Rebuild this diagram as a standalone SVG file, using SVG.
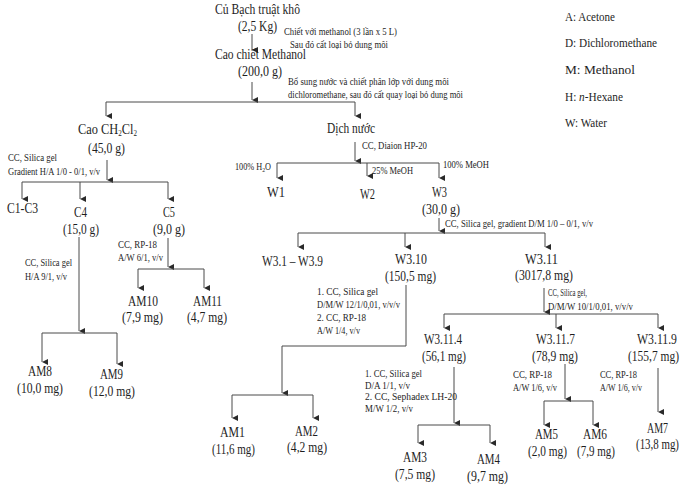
<svg xmlns="http://www.w3.org/2000/svg" width="682" height="486" viewBox="0 0 682 486" font-family="Liberation Serif">
<style>
text{fill:#1e1e1e}
.m{font-size:14px}
.s{font-size:10px}
.l{font-size:13px}
.c path{fill:none;stroke:#4a4a4a;stroke-width:1}
.c path.a{marker-end:url(#ah)}
</style>
<defs>
<marker id="ah" markerUnits="userSpaceOnUse" markerWidth="6" markerHeight="7" refX="3" refY="6" orient="auto-start-reverse" viewBox="0 0 6 7">
<path d="M0,0 L6,0 L3,6 Z" fill="#2a2a2a"/>
</marker>
</defs>
<rect width="682" height="486" fill="#fff"/>

<g class="c" id="connectors">
<path class="a" d="M252,34 V50"/>
<path class="a" d="M252,82 V100"/>
<path d="M106,102 H355"/>
<path class="a" d="M106,102 V116"/>
<path class="a" d="M355,102 V116"/>
<path class="a" d="M107,160 V180"/>
<path d="M22,182 H168"/>
<path class="a" d="M22,182 V199"/>
<path class="a" d="M80,182 V199"/>
<path class="a" d="M168,182 V199"/>
<path class="a" d="M355,142 V161"/>
<path d="M277,163 H439"/>
<path class="a" d="M277,163 V178"/>
<path class="a" d="M367,163 V176"/>
<path class="a" d="M439,163 V178"/>
<path class="a" d="M79,237 V331"/>
<path d="M42,333 H117"/>
<path class="a" d="M42,333 V362"/>
<path class="a" d="M117,333 V364"/>
<path class="a" d="M168,238 V267"/>
<path d="M138,269 H204"/>
<path class="a" d="M138,269 V288"/>
<path class="a" d="M204,269 V288"/>
<path class="a" d="M439,218 V231"/>
<path d="M298,233 H545"/>
<path class="a" d="M298,233 V247"/>
<path class="a" d="M405,233 V247"/>
<path class="a" d="M545,233 V247"/>
<path class="a" d="M406,285 V346 H282 V393"/>
<path d="M232,395 H313"/>
<path class="a" d="M232,395 V418"/>
<path class="a" d="M313,395 V418"/>
<path class="a" d="M544,288 V312"/>
<path d="M444,314 H658"/>
<path class="a" d="M444,314 V328"/>
<path class="a" d="M556,314 V328"/>
<path class="a" d="M658,314 V328"/>
<path class="a" d="M454,367 V423"/>
<path d="M418,425 H490"/>
<path class="a" d="M418,425 V443"/>
<path class="a" d="M490,425 V443"/>
<path class="a" d="M565,364 V399"/>
<path d="M544,401 H593"/>
<path class="a" d="M544,401 V425"/>
<path class="a" d="M593,401 V425"/>
<path class="a" d="M658,368 V412"/>
</g>

<g id="edge-labels" class="s">
<text x="284" y="35" textLength="113" lengthAdjust="spacingAndGlyphs">Chiết với methanol  (3 lần  x 5 L)</text>
<text x="290" y="48" textLength="98" lengthAdjust="spacingAndGlyphs">Sau đó cất loại bỏ dung môi</text>
<text x="288" y="85" textLength="161" lengthAdjust="spacingAndGlyphs">Bổ sung nước và chiết  phân lớp với dung môi</text>
<text x="288" y="98" textLength="175" lengthAdjust="spacingAndGlyphs">dichloromethane,  sau đó cất quay loại bỏ dung môi</text>
<text x="8" y="161" textLength="49" lengthAdjust="spacingAndGlyphs">CC, Silica  gel</text>
<text x="8" y="175" textLength="92" lengthAdjust="spacingAndGlyphs">Gradient  H/A 1/0 - 0/1, v/v</text>
<text x="362" y="149" textLength="65" lengthAdjust="spacingAndGlyphs">CC, Diaion  HP-20</text>
<text x="235" y="170" textLength="36" lengthAdjust="spacingAndGlyphs">100% H<tspan font-size="7" dy="2">2</tspan><tspan dy="-2">O</tspan></text>
<text x="372" y="174" textLength="41" lengthAdjust="spacingAndGlyphs">25% MeOH</text>
<text x="443" y="168" textLength="46" lengthAdjust="spacingAndGlyphs">100% MeOH</text>
<text x="25" y="266" textLength="47" lengthAdjust="spacingAndGlyphs">CC, Silica  gel</text>
<text x="25" y="280" textLength="42" lengthAdjust="spacingAndGlyphs">H/A 9/1, v/v</text>
<text x="118" y="248" textLength="39" lengthAdjust="spacingAndGlyphs">CC, RP-18</text>
<text x="118" y="261" textLength="45" lengthAdjust="spacingAndGlyphs">A/W 6/1, v/v</text>
<text x="445" y="227" textLength="148" lengthAdjust="spacingAndGlyphs">CC, Silica  gel,  gradient  D/M 1/0 – 0/1, v/v</text>
<text x="317" y="295" textLength="61" lengthAdjust="spacingAndGlyphs">1.   CC, Silica  gel</text>
<text x="317" y="308" textLength="83" lengthAdjust="spacingAndGlyphs">D/M/W 12/1/0,01, v/v/v</text>
<text x="317" y="321" textLength="49" lengthAdjust="spacingAndGlyphs">2. CC, RP-18</text>
<text x="317" y="334" textLength="43" lengthAdjust="spacingAndGlyphs">A/W 1/4, v/v</text>
<text x="548" y="296" textLength="39" lengthAdjust="spacingAndGlyphs">CC, Silica  gel,</text>
<text x="548" y="310" textLength="85" lengthAdjust="spacingAndGlyphs">D/M/W 10/1/0,01, v/v/v</text>
<text x="365" y="377" textLength="57" lengthAdjust="spacingAndGlyphs">1. CC, Silica  gel</text>
<text x="365" y="389" textLength="45" lengthAdjust="spacingAndGlyphs">D/A 1/1, v/v</text>
<text x="365" y="400" textLength="92" lengthAdjust="spacingAndGlyphs">2. CC, Sephadex  LH-20</text>
<text x="365" y="412" textLength="48" lengthAdjust="spacingAndGlyphs">M/W 1/2, v/v</text>
<text x="513" y="378" textLength="39" lengthAdjust="spacingAndGlyphs">CC, RP-18</text>
<text x="513" y="391" textLength="44" lengthAdjust="spacingAndGlyphs">A/W 1/6, v/v</text>
<text x="600" y="378" textLength="37" lengthAdjust="spacingAndGlyphs">CC, RP-18</text>
<text x="600" y="391" textLength="42" lengthAdjust="spacingAndGlyphs">A/W 1/6, v/v</text>
</g>

<g id="legend" class="l">
<text x="565" y="21" textLength="50" lengthAdjust="spacingAndGlyphs">A: Acetone</text>
<text x="565" y="47" textLength="92" lengthAdjust="spacingAndGlyphs">D: Dichloromethane</text>
<text x="565" y="74" textLength="70" lengthAdjust="spacingAndGlyphs">M: Methanol</text>
<text x="565" y="101" textLength="58" lengthAdjust="spacingAndGlyphs">H: <tspan font-style="italic">n</tspan>-Hexane</text>
<text x="565" y="127" textLength="42" lengthAdjust="spacingAndGlyphs">W: Water</text>
</g>

<g class="m">
<g id="n-start"><text x="215" y="14" textLength="85" lengthAdjust="spacingAndGlyphs">Củ Bạch truật khô</text><text x="238" y="31" textLength="39" lengthAdjust="spacingAndGlyphs">(2,5 Kg)</text></g>
<g id="n-methanol"><text x="215" y="59" textLength="91" lengthAdjust="spacingAndGlyphs">Cao chiết Methanol</text><text x="238" y="76" textLength="44" lengthAdjust="spacingAndGlyphs">(200,0 g)</text></g>
<g id="n-ch2cl2"><text x="78" y="134" textLength="59" lengthAdjust="spacingAndGlyphs">Cao CH<tspan font-size="8" dy="2">2</tspan><tspan dy="-2">Cl</tspan><tspan font-size="8" dy="2">2</tspan></text><text x="88" y="153" textLength="37" lengthAdjust="spacingAndGlyphs">(45,0 g)</text></g>
<g id="n-dichnuoc"><text x="327" y="133" textLength="48" lengthAdjust="spacingAndGlyphs">Dịch nước</text></g>
<g id="n-c1c3"><text x="7" y="213" textLength="31" lengthAdjust="spacingAndGlyphs">C1-C3</text></g>
<g id="n-c4"><text x="74" y="217" textLength="13" lengthAdjust="spacingAndGlyphs">C4</text><text x="63" y="234" textLength="36" lengthAdjust="spacingAndGlyphs">(15,0 g)</text></g>
<g id="n-c5"><text x="163" y="217" textLength="12" lengthAdjust="spacingAndGlyphs">C5</text><text x="153" y="234" textLength="32" lengthAdjust="spacingAndGlyphs">(9,0 g)</text></g>
<g id="n-w1"><text x="267" y="197" textLength="18" lengthAdjust="spacingAndGlyphs">W1</text></g>
<g id="n-w2"><text x="360" y="199" textLength="15" lengthAdjust="spacingAndGlyphs">W2</text></g>
<g id="n-w3"><text x="432" y="197" textLength="15" lengthAdjust="spacingAndGlyphs">W3</text><text x="422" y="214" textLength="38" lengthAdjust="spacingAndGlyphs">(30,0 g)</text></g>
<g id="n-w31-39"><text x="262" y="266" textLength="61" lengthAdjust="spacingAndGlyphs">W3.1 – W3.9</text></g>
<g id="n-w310"><text x="395" y="264" textLength="32" lengthAdjust="spacingAndGlyphs">W3.10</text><text x="385" y="281" textLength="51" lengthAdjust="spacingAndGlyphs">(150,5 mg)</text></g>
<g id="n-w311"><text x="525" y="264" textLength="33" lengthAdjust="spacingAndGlyphs">W3.11</text><text x="515" y="280" textLength="58" lengthAdjust="spacingAndGlyphs">(3017,8 mg)</text></g>
<g id="n-w3114"><text x="424" y="344" textLength="38" lengthAdjust="spacingAndGlyphs">W3.11.4</text><text x="422" y="361" textLength="44" lengthAdjust="spacingAndGlyphs">(56,1 mg)</text></g>
<g id="n-w3117"><text x="536" y="344" textLength="39" lengthAdjust="spacingAndGlyphs">W3.11.7</text><text x="532" y="361" textLength="46" lengthAdjust="spacingAndGlyphs">(78,9 mg)</text></g>
<g id="n-w3119"><text x="677" y="344" text-anchor="end" textLength="40" lengthAdjust="spacingAndGlyphs">W3.11.9</text><text x="679" y="361" text-anchor="end" textLength="51" lengthAdjust="spacingAndGlyphs">(155,7 mg)</text></g>
<g id="n-am10"><text x="128" y="306" textLength="30" lengthAdjust="spacingAndGlyphs">AM10</text><text x="122" y="322" textLength="41" lengthAdjust="spacingAndGlyphs">(7,9 mg)</text></g>
<g id="n-am11"><text x="193" y="306" textLength="29" lengthAdjust="spacingAndGlyphs">AM11</text><text x="187" y="322" textLength="40" lengthAdjust="spacingAndGlyphs">(4,7 mg)</text></g>
<g id="n-am8"><text x="28" y="376" textLength="24" lengthAdjust="spacingAndGlyphs">AM8</text><text x="17" y="393" textLength="46" lengthAdjust="spacingAndGlyphs">(10,0 mg)</text></g>
<g id="n-am9"><text x="100" y="379" textLength="23" lengthAdjust="spacingAndGlyphs">AM9</text><text x="89" y="396" textLength="46" lengthAdjust="spacingAndGlyphs">(12,0 mg)</text></g>
<g id="n-am1"><text x="220" y="437" textLength="25" lengthAdjust="spacingAndGlyphs">AM1</text><text x="212" y="454" textLength="43" lengthAdjust="spacingAndGlyphs">(11,6 mg)</text></g>
<g id="n-am2"><text x="295" y="436" textLength="23" lengthAdjust="spacingAndGlyphs">AM2</text><text x="287" y="452" textLength="40" lengthAdjust="spacingAndGlyphs">(4,2 mg)</text></g>
<g id="n-am3"><text x="403" y="462" textLength="24" lengthAdjust="spacingAndGlyphs">AM3</text><text x="395" y="479" textLength="40" lengthAdjust="spacingAndGlyphs">(7,5 mg)</text></g>
<g id="n-am4"><text x="477" y="464" textLength="23" lengthAdjust="spacingAndGlyphs">AM4</text><text x="467" y="481" textLength="41" lengthAdjust="spacingAndGlyphs">(9,7 mg)</text></g>
<g id="n-am5"><text x="535" y="439" textLength="23" lengthAdjust="spacingAndGlyphs">AM5</text><text x="528" y="456" textLength="39" lengthAdjust="spacingAndGlyphs">(2,0 mg)</text></g>
<g id="n-am6"><text x="583" y="439" textLength="24" lengthAdjust="spacingAndGlyphs">AM6</text><text x="577" y="456" textLength="38" lengthAdjust="spacingAndGlyphs">(7,9 mg)</text></g>
<g id="n-am7"><text x="647" y="433" textLength="21" lengthAdjust="spacingAndGlyphs">AM7</text><text x="679" y="449" text-anchor="end" textLength="43" lengthAdjust="spacingAndGlyphs">(13,8 mg)</text></g>
</g>
</svg>
